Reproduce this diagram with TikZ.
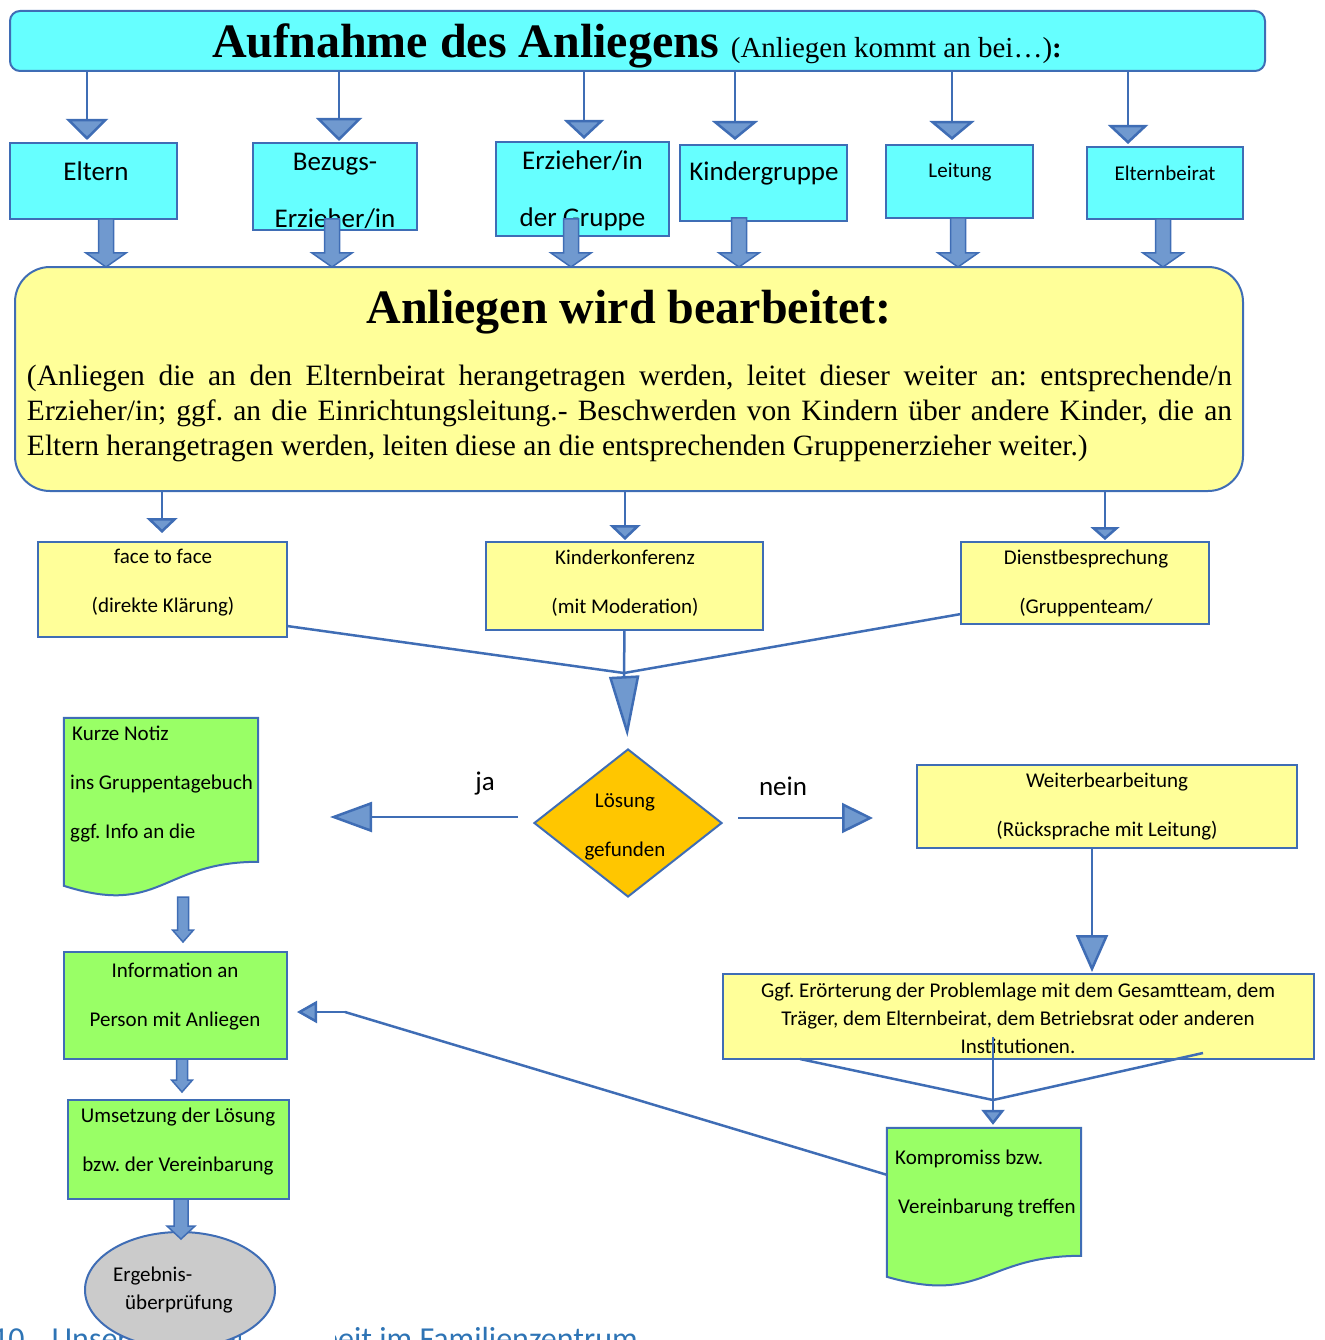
\documentclass[tikz,border=0pt]{standalone}
\usepackage{fontspec}
\setmainfont{Liberation Serif}
\newfontfamily\calib{Carlito}
\usetikzlibrary{arrows.meta,shapes.geometric,calc}
\frenchspacing

\definecolor{randblau}{HTML}{3F6DB5}
\definecolor{pfeilblau}{HTML}{7099CF}
\definecolor{tuerkis}{HTML}{66FFFF}
\definecolor{hellgelb}{HTML}{FFFF99}
\definecolor{hellgruen}{HTML}{99FF66}
\definecolor{goldgelb}{HTML}{FFC600}
\definecolor{hellgrau}{HTML}{CBCBCB}
\definecolor{titelblau}{HTML}{2E74B5}

% breiter Blockpfeil: Schaft/2, Spitze/2, Spitzenlaenge, von, nach
\newcommand\blockpfeil[5]{%
  \draw[blockp] let \p1=#4, \p2=#5 in
    (\x1-#1pt,\y1) -- (\x1+#1pt,\y1) -- (\x1+#1pt,\y2+#3pt)
    -- (\x1+#2pt,\y2+#3pt) -- (\x1,\y2) -- (\x1-#2pt,\y2+#3pt)
    -- (\x1-#1pt,\y2+#3pt) -- cycle;}

\begin{document}
\begin{tikzpicture}[x=1pt,y=-1pt,
  box/.style={draw=randblau,line width=2pt,inner sep=0pt,outer sep=0pt},
  tbox/.style={box,fill=tuerkis},
  gbox/.style={box,fill=hellgelb},
  ggbox/.style={box,fill=hellgruen},
  doc/.style={draw=randblau,line width=2pt,fill=hellgruen},
  verb/.style={draw=randblau,line width=2.5pt},
  tri/.style 2 args={verb,-{Triangle[width=#1pt,length=#2pt,fill=pfeilblau]}},
  blockp/.style={draw=randblau,fill=pfeilblau,line width=1.5pt,line join=miter},
  t26/.style={font=\calib\fontsize{27}{57}\selectfont,align=center,inner sep=0pt},
  t21/.style={font=\calib\fontsize{21}{49}\selectfont,align=center,inner sep=0pt},
  t21e/.style={font=\calib\fontsize{21}{28}\selectfont,align=center,inner sep=0pt}]
\useasboundingbox (0,0) rectangle (1324,1340);

% Kopf
\node[tbox,rounded corners=10pt,minimum width=1255pt,minimum height=60pt] (aufnahme) at (637.5,41) {};
\node[anchor=base,inner sep=0pt] (aufnahme-t) at (637,58)
  {\fontsize{48}{55}\selectfont\bfseries Aufnahme des Anliegens
   {\fontsize{29}{34}\selectfont\mdseries (Anliegen kommt an bei…)\bfseries:}};

% wer nimmt auf
\node[tbox,minimum width=167pt,minimum height=76pt] (eltern) at (93.5,181) {};
\node[tbox,minimum width=164pt,minimum height=87pt] (bezugs) at (335,186.5) {};
\node[tbox,minimum width=173pt,minimum height=94pt] (erzieher) at (582.5,189) {};
\node[tbox,minimum width=167pt,minimum height=76pt] (kinder) at (763.5,183) {};
\node[tbox,minimum width=147pt,minimum height=73pt] (leitung) at (959.5,181.5) {};
\node[tbox,minimum width=156pt,minimum height=72pt] (beirat) at (1165,183) {};
\node[t26] (eltern-t) at (96,171) {Eltern};
\node[t26] (bezugs-t) at (335,190.5) {Bezugs-\\Erzieher/in};
\node[t26] (erzieher-t) at (582.5,190.5) {Erzieher/in\\der Gruppe};
\node[t26] (kinder-t) at (764,173) {Kindergruppe};
\node[t21] (leitung-t) at (960,172) {Leitung};
\node[t21] (beirat-t) at (1165,173) {Elternbeirat};

\draw[tri={42}{21},shorten >=3pt] (aufnahme.south -| 87,0) -- (eltern.north -| 87,0);
\draw[tri={46}{23},shorten >=2pt] (aufnahme.south -| 339,0) -- (bezugs.north -| 339,0);
\draw[tri={40}{19},shorten >=3pt] (aufnahme.south -| 584,0) -- (erzieher.north -| 584,0);
\draw[tri={46}{19},shorten >=5pt] (aufnahme.south -| 735,0) -- (kinder.north -| 735,0);
\draw[tri={45}{19},shorten >=5pt] (aufnahme.south -| 952,0) -- (leitung.north -| 952,0);
\draw[tri={40}{19},shorten >=3pt] (aufnahme.south -| 1128,0) -- (beirat.north -| 1128,0);

% Bearbeitung
\node[gbox,rounded corners=35pt,minimum width=1228pt,minimum height=224pt] (bearb) at (629,379) {};
\node[anchor=base,inner sep=0pt,font=\fontsize{48}{55}\selectfont\bfseries] (bearb-titel) at (629,323)
  {Anliegen wird bearbeitet:};
\node[text width=1205pt,align=justify,inner sep=0pt,font=\fontsize{29.5}{35}\selectfont] (bearb-t) at (629.5,413)
  {\hyphenpenalty=10000 (Anliegen die an den Elternbeirat herangetragen werden, leitet dieser weiter an: entsprechende/n\linebreak
   Erzieher/in; ggf. an die Einrichtungsleitung.- Beschwerden von Kindern über andere Kinder, die an\linebreak
   Eltern herangetragen werden, leiten diese an die entsprechenden Gruppenerzieher weiter.)};

\blockpfeil{7.5}{20}{14}{(eltern.south -| 106,0)}{(bearb.north -| 106,0)}
\blockpfeil{7.5}{20}{14}{($(bezugs.south -| 332,0)+(0,-11)$)}{(bearb.north -| 332,0)}
\blockpfeil{7.5}{20}{14}{($(erzieher.south -| 571,0)+(0,-17)$)}{(bearb.north -| 571,0)}
\blockpfeil{7.5}{20}{14}{($(kinder.south -| 739,0)+(0,-3)$)}{(bearb.north -| 739,0)}
\blockpfeil{7.5}{20}{14}{(leitung.south -| 958,0)}{(bearb.north -| 958,0)}
\blockpfeil{7.5}{20}{14}{(beirat.south -| 1163,0)}{(bearb.north -| 1163,0)}

% Wege
\node[gbox,minimum width=249pt,minimum height=95pt] (face) at (162.5,589.5) {};
\node[gbox,minimum width=277pt,minimum height=88pt] (kinderk) at (624.5,586) {};
\node[gbox,minimum width=248pt,minimum height=82pt] (dienst) at (1085,583) {};
\node[t21] (face-t) at (163,583) {face to face\\(direkte Klärung)};
\node[t21] (kinderk-t) at (625,583) {Kinderkonferenz\\(mit Moderation)};
\node[t21] (dienst-t) at (1086,583) {Dienstbesprechung\\(Gruppenteam/};

\draw[tri={31}{15},shorten >=9pt] (bearb.south -| 162,0) -- (face.north -| 162,0);
\draw[tri={31}{15},shorten >=2pt] (bearb.south -| 625,0) -- (kinderk.north -| 625,0);
\draw[tri={29}{13},shorten >=2pt] (bearb.south -| 1105,0) -- (dienst.north -| 1105,0);

% Entscheidung
\node[diamond,draw=randblau,line width=2pt,fill=goldgelb,minimum width=188pt,minimum height=148pt,inner sep=0pt] (loesung) at (628,823) {};
\node[t21] (loesung-t) at (625,827) {Lösung\\gefunden};

\coordinate (treff) at (624,673);
\draw[verb] ($(face.south east)+(0,-11)$) -- (treff);
\draw[verb] (kinderk.south) -- (treff);
\draw[verb] ($(dienst.south west)+(0,-10)$) -- (treff);
\draw[tri={30}{61},shorten >=11pt] (treff) -- (loesung.north);

\coordinate (ja-ziel) at (330,817);
\coordinate (nein-ziel) at (873,818);
\draw[tri={30}{42}] ($(loesung.west)+(-15,-6)$) -- (ja-ziel);
\draw[tri={30}{31}] ($(loesung.east)+(15,-5)$) -- (nein-ziel);
\node[font=\calib\fontsize{27}{32}\selectfont,inner sep=0pt] (ja) at (485,784) {ja};
\node[font=\calib\fontsize{27}{32}\selectfont,inner sep=0pt] (nein) at (783,786) {nein};

% nein-Zweig
\node[gbox,minimum width=380pt,minimum height=83pt] (weiter) at (1107,806.5) {};
\node[t21] (weiter-t) at (1107,806.5) {Weiterbearbeitung\\(Rücksprache mit Leitung)};
\node[gbox,minimum width=591pt,minimum height=85pt] (ggf) at (1018.5,1016.5) {};
\node[t21e] (ggf-t) at (1018,1018) {Ggf. Erörterung der Problemlage mit dem Gesamtteam, dem\\
  Träger, dem Elternbeirat, dem Betriebsrat oder anderen\\Institutionen.};
\draw[tri={32}{37},shorten >=2pt] (weiter.south -| 1092,0) -- (ggf.north -| 1092,0);

\node[minimum width=194pt,minimum height=160pt,inner sep=0pt] (kompr) at (984,1208) {};
\draw[doc] (kompr.north west) -- (kompr.north east) -- ($(kompr.north east)+(0,128)$)
  .. controls ($(kompr.north)+(0,128)$) and ($(kompr.north)+(0,177)$) .. ($(kompr.north west)+(0,149)$) -- cycle;
\node[t21,align=left,anchor=west] (kompr-t) at (895,1183) {Kompromiss bzw.\\\hspace*{3pt}Vereinbarung treffen};

\coordinate (treff2) at (993,1100);
\draw[verb] ($(ggf.south west)+(77,0)$) -- (treff2);
\draw[verb] ($(ggf.south east)+(-111,-6)$) -- (treff2);
\draw[verb] ($(ggf.south west)+(270,-22)$) -- (treff2);
\draw[tri={23}{15},shorten >=3pt] (treff2) -- (kompr.north -| treff2);

% ja-Zweig
\node[minimum width=194pt,minimum height=180pt,inner sep=0pt] (notiz) at (161,808) {};
\draw[doc] (notiz.north west) -- (notiz.north east) -- ($(notiz.north east)+(0,144)$)
  .. controls ($(notiz.north)+(0,144)$) and ($(notiz.north)+(0,199)$) .. ($(notiz.north west)+(0,168)$) -- cycle;
\node[t21,align=left,anchor=west] (notiz-t) at (70,784) {\hspace*{2pt}Kurze Notiz\\ins Gruppentagebuch\\ggf. Info an die};

\node[ggbox,minimum width=223pt,minimum height=107pt] (info) at (175.5,1005.5) {};
\node[t21] (info-t) at (175,996.5) {Information an\\Person mit Anliegen};
\node[ggbox,minimum width=221pt,minimum height=99pt] (umsetz) at (178.5,1149.5) {};
\node[t21] (umsetz-t) at (178,1141.5) {Umsetzung der Lösung\\bzw. der Vereinbarung};

\coordinate (knick) at (345,1012);
\draw[verb] ($(kompr.north west)+(0,47)$) -- (knick);
\draw[tri={22}{20},shorten >=10pt] (knick) -- (info.east |- knick);

% Kapitelueberschrift, zum Teil verdeckt
\begin{scope}
\clip (-10,1290) rectangle (240,1345) (335,1290) rectangle (700,1345);
\node[anchor=base west,inner sep=0pt,text=titelblau,font=\calib\fontsize{32}{38}\selectfont] (kapitel) at (-8,1349)
  {10.\hspace{19pt}Unsere Zusammenarbeit im Familienzentrum};
\end{scope}
\node[ellipse,draw=randblau,line width=2pt,fill=hellgrau,minimum width=190pt,minimum height=116pt,inner sep=0pt] (ergebnis) at (180,1290) {};
\node[t21e,align=left,anchor=west] (ergebnis-t) at (113,1290) {Ergebnis-\\\hspace*{12pt}überprüfung};

\blockpfeil{5.5}{10.5}{12}{($(notiz.south -| 183,0)+(0,-1)$)}{($(info.north -| 183,0)+(0,-10)$)}
\blockpfeil{5.5}{10.5}{12}{(info.south -| 182,0)}{($(umsetz.north -| 182,0)+(0,-8)$)}
\blockpfeil{7}{14}{13}{(umsetz.south -| 181,0)}{($(ergebnis.north -| 181,0)+(0,8)$)}
\end{tikzpicture}
\end{document}
